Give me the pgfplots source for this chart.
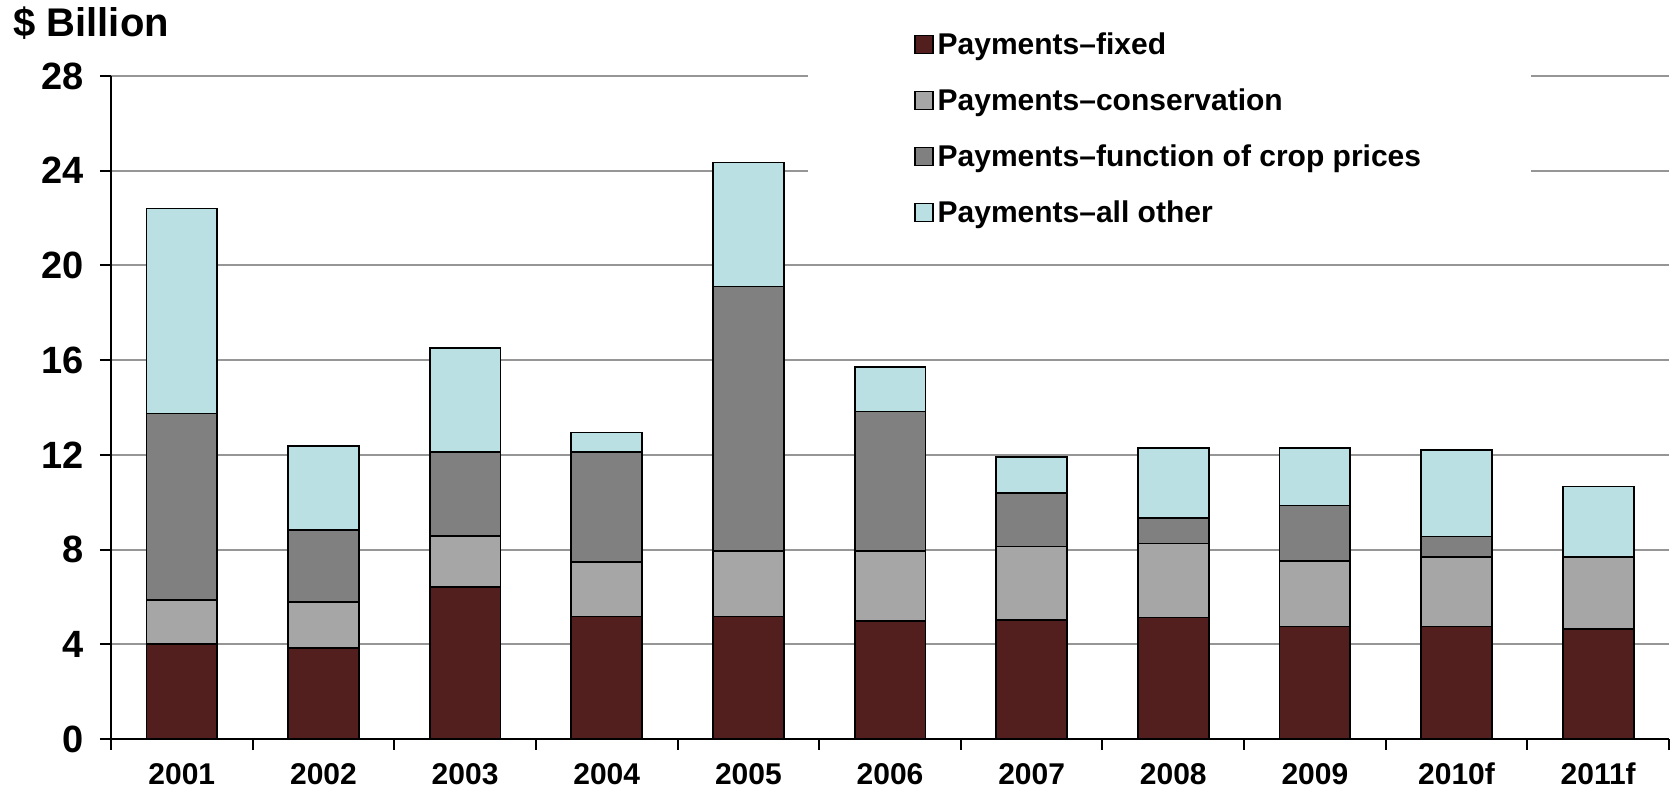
\documentclass[border=0pt]{standalone}
\usepackage{fontspec}
\setmainfont{Liberation Sans}
\usepackage{pgfplots}
\pgfplotsset{compat=1.18}
\usepackage{pgfplotstable}
\definecolor{cfixed}{RGB}{83,30,30}
\definecolor{ccons}{RGB}{166,166,166}
\definecolor{ccrop}{RGB}{128,128,128}
\definecolor{cother}{RGB}{186,224,227}
\definecolor{cgrid}{RGB}{150,150,150}

\pgfplotstableread{
x fixed cons crop other
0 4.00 1.88 7.87 8.65
1 3.84 1.96 3.03 3.56
2 6.43 2.13 3.56 4.38
3 5.17 2.32 4.63 0.82
4 5.17 2.78 11.16 5.24
5 5.00 2.95 5.88 1.87
6 5.03 3.10 2.27 1.52
7 5.13 3.13 1.08 2.95
8 4.75 2.78 2.33 2.43
9 4.75 2.95 0.85 3.64
10 4.66 3.04 0 2.96
}\data

\begin{document}
\begin{tikzpicture}
\begin{axis}[name=ax, scale only axis, width=779pt, height=331.5pt,
  xmin=-0.5, xmax=10.5, ymin=0, ymax=28,
  ybar stacked, bar width=0.5,
  axis lines*=left, axis line style={line width=1pt},
  ytick={0,4,...,28}, ymajorgrids, grid style={cgrid, line width=1pt},
  xtick={-0.5,0.5,...,10.5}, xticklabels={,,,,,,,,,,,,},
  extra x ticks={0,1,2,3,4,5,6,7,8,9,10},
  extra x tick labels={2001,2002,2003,2004,2005,2006,2007,2008,2009,2010f,2011f},
  extra x tick style={major tick length=0pt, grid=none},
  tick align=outside, major tick length=5.5pt, tick style={black, line width=1pt},
  /pgf/number format/assume math mode=true,
  yticklabel style={font=\fontsize{19}{19}\selectfont\bfseries, inner sep=0pt, xshift=-8pt},
  xticklabel style={font=\fontsize{15}{15}\selectfont\bfseries, inner sep=0pt, text height=10.7pt, text depth=0pt, yshift=-12pt},
  legend image code/.code={\draw[#1, draw=black, line width=0.6pt] (0pt,-4.5pt) rectangle (9pt,4.5pt);},
  legend style={at={(0.4474,1.09)}, anchor=north west, draw=none, fill=white,
    inner xsep=53pt, inner ysep=0pt, row sep=0pt,
    font=\fontsize{15}{18}\selectfont\bfseries,
    nodes={minimum height=28pt, inner ysep=0pt},
    cells={anchor=west}},
]
\addplot[fill=cfixed, draw=black, line width=0.9pt] table[x=x, y=fixed] {\data};
\addplot[fill=ccons, draw=black, line width=0.9pt] table[x=x, y=cons] {\data};
\addplot[fill=ccrop, draw=black, line width=0.9pt] table[x=x, y=crop] {\data};
\addplot[fill=cother, draw=black, line width=0.9pt] table[x=x, y=other] {\data};
\legend{Payments--fixed, Payments--conservation, Payments--function of crop prices, Payments--all other}
\end{axis}
\node[anchor=west, font=\fontsize{20}{24}\selectfont\bfseries, inner sep=0pt] at ([xshift=-49pt,yshift=26.5pt]ax.north west) {\$ Billion};
\path ([xshift=-55.5pt,yshift=-36pt]ax.south west) rectangle ([xshift=5pt,yshift=38pt]ax.north east);
\end{tikzpicture}
\end{document}
